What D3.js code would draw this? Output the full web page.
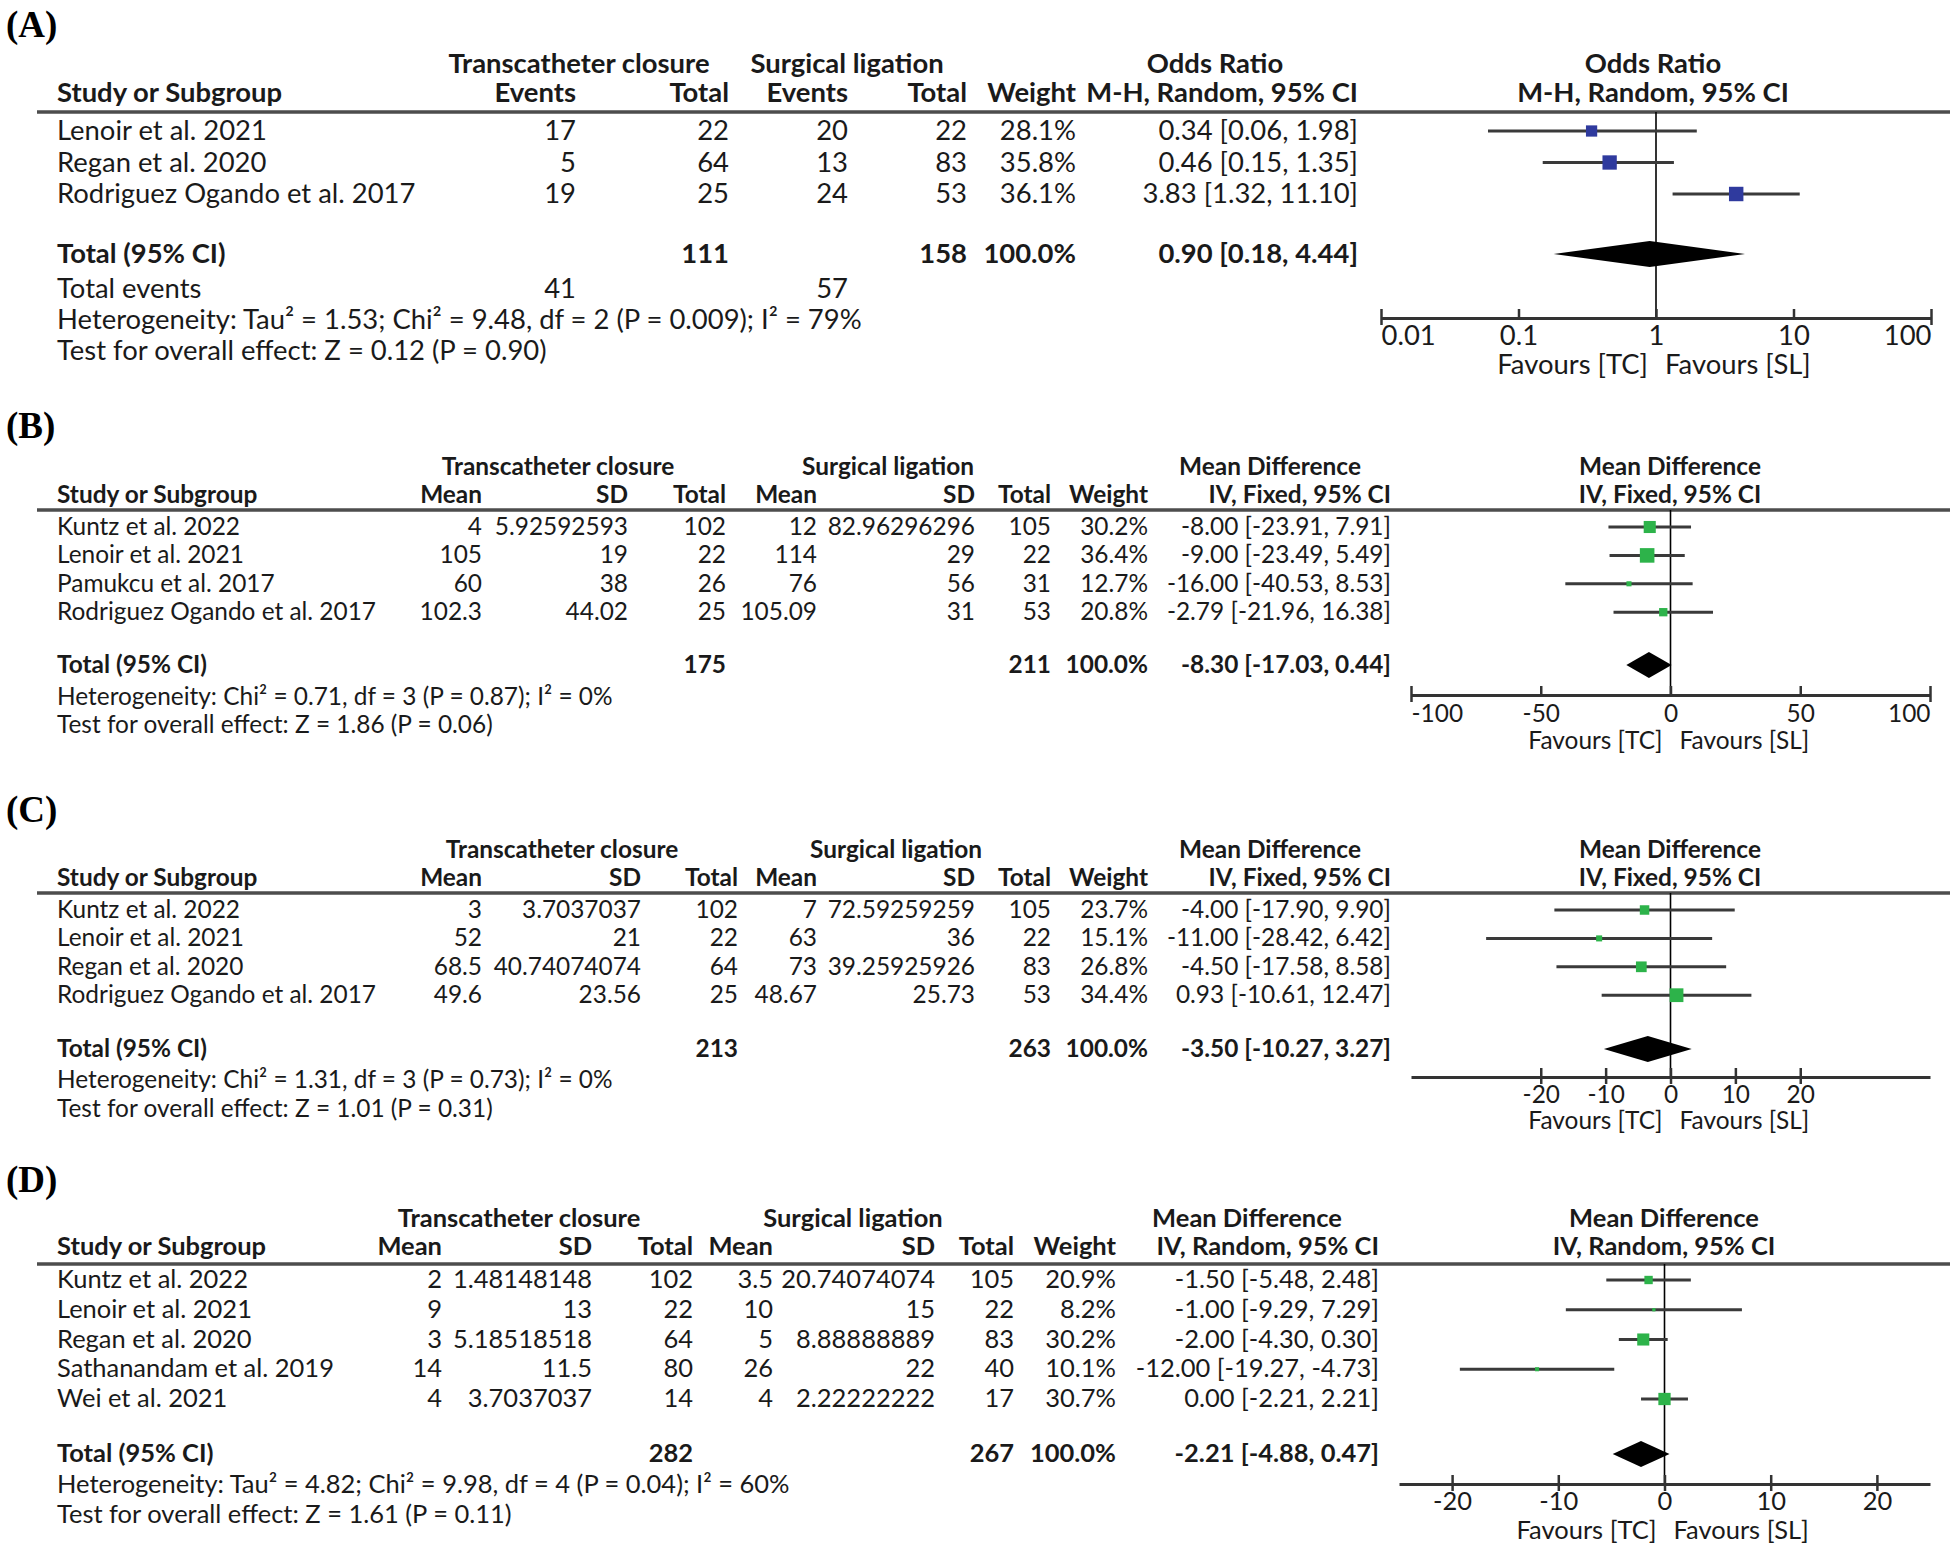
<!DOCTYPE html>
<html>
<head>
<meta charset="utf-8">
<script src="https://cdn.jsdelivr.net/npm/d3@7"></script>
<style>
  body { margin: 0; background: #fff; }
  svg text { font-family: Lato, "Noto Sans", sans-serif; fill: #1a1a1a; }
</style>
</head>
<body>
<svg id="chart" width="1950" height="1547"></svg>
<script>
// (A) Odds ratio
const studiesA = ["Lenoir et al. 2021", "Regan et al. 2020", "Rodriguez Ogando et al. 2017"]
const tcEventsA = [17, 5, 19]
const tcTotalA = [22, 64, 25]
const slEventsA = [20, 13, 24]
const slTotalA = [22, 83, 53]
const weightA = [28.1, 35.8, 36.1]
const orA = [0.34, 0.46, 3.83]
const orLowA = [0.06, 0.15, 1.32]
const orHighA = [1.98, 1.35, 11.10]
const totalA = [111, 158]
const totalEventsA = [41, 57]
const totalOrA = [0.90, 0.18, 4.44]
const ticksA = [0.01, 0.1, 1, 10, 100]
const hetA = "Heterogeneity: Tau² = 1.53; Chi² = 9.48, df = 2 (P = 0.009); I² = 79%"
const testA = "Test for overall effect: Z = 0.12 (P = 0.90)"

// (B) Mean difference, fixed
const studiesB = ["Kuntz et al. 2022", "Lenoir et al. 2021", "Pamukcu et al. 2017", "Rodriguez Ogando et al. 2017"]
const tcMeanB = [4, 105, 60, 102.3]
const tcSdB = [5.92592593, 19, 38, 44.02]
const tcTotalB = [102, 22, 26, 25]
const slMeanB = [12, 114, 76, 105.09]
const slSdB = [82.96296296, 29, 56, 31]
const slTotalB = [105, 22, 31, 53]
const weightB = [30.2, 36.4, 12.7, 20.8]
const mdB = [-8.00, -9.00, -16.00, -2.79]
const mdLowB = [-23.91, -23.49, -40.53, -21.96]
const mdHighB = [7.91, 5.49, 8.53, 16.38]
const totalB = [175, 211]
const totalMdB = [-8.30, -17.03, 0.44]
const ticksB = [-100, -50, 0, 50, 100]
const hetB = "Heterogeneity: Chi² = 0.71, df = 3 (P = 0.87); I² = 0%"
const testB = "Test for overall effect: Z = 1.86 (P = 0.06)"

// (C) Mean difference, fixed
const studiesC = ["Kuntz et al. 2022", "Lenoir et al. 2021", "Regan et al. 2020", "Rodriguez Ogando et al. 2017"]
const tcMeanC = [3, 52, 68.5, 49.6]
const tcSdC = [3.7037037, 21, 40.74074074, 23.56]
const tcTotalC = [102, 22, 64, 25]
const slMeanC = [7, 63, 73, 48.67]
const slSdC = [72.59259259, 36, 39.25925926, 25.73]
const slTotalC = [105, 22, 83, 53]
const weightC = [23.7, 15.1, 26.8, 34.4]
const mdC = [-4.00, -11.00, -4.50, 0.93]
const mdLowC = [-17.90, -28.42, -17.58, -10.61]
const mdHighC = [9.90, 6.42, 8.58, 12.47]
const totalC = [213, 263]
const totalMdC = [-3.50, -10.27, 3.27]
const ticksC = [-20, -10, 0, 10, 20]
const hetC = "Heterogeneity: Chi² = 1.31, df = 3 (P = 0.73); I² = 0%"
const testC = "Test for overall effect: Z = 1.01 (P = 0.31)"

// (D) Mean difference, random
const studiesD = ["Kuntz et al. 2022", "Lenoir et al. 2021", "Regan et al. 2020", "Sathanandam et al. 2019", "Wei et al. 2021"]
const tcMeanD = [2, 9, 3, 14, 4]
const tcSdD = [1.48148148, 13, 5.18518518, 11.5, 3.7037037]
const tcTotalD = [102, 22, 64, 80, 14]
const slMeanD = [3.5, 10, 5, 26, 4]
const slSdD = [20.74074074, 15, 8.88888889, 22, 2.22222222]
const slTotalD = [105, 22, 83, 40, 17]
const weightD = [20.9, 8.2, 30.2, 10.1, 30.7]
const mdD = [-1.50, -1.00, -2.00, -12.00, 0.00]
const mdLowD = [-5.48, -9.29, -4.30, -19.27, -2.21]
const mdHighD = [2.48, 7.29, 0.30, -4.73, 2.21]
const totalD = [282, 267]
const totalMdD = [-2.21, -4.88, 0.47]
const ticksD = [-20, -10, 0, 10, 20]
const hetD = "Heterogeneity: Tau² = 4.82; Chi² = 9.98, df = 4 (P = 0.04); I² = 60%"
const testD = "Test for overall effect: Z = 1.61 (P = 0.11)"

const svg = d3.select("#chart")
const hy = s => s.replace(/\u2212/g, "-")   // RevMan prints a plain hyphen
const f2 = v => hy(d3.format(".2f")(v))
const ciText = (e, lo, hi) => `${f2(e)} [${f2(lo)}, ${f2(hi)}]`
const wText = w => d3.format(".1f")(w) + "%"
const intFmt = d => hy(d3.format("d")(d))
const boxSize = d3.scaleLinear().domain([0, 40]).range([0, 16])

// font size so that the heterogeneity line has the width seen in the picture
function fitSize(str, target) {
  const t = svg.append("text").attr("font-size", 100).text(str)
  const w = t.node().getComputedTextLength()
  t.remove()
  return 100 * target / w
}

function drawPanel(p) {
  const fs = fitSize(p.het, p.hetWidth)
  const g = svg.append("g").attr("font-size", fs)
  const n = p.studies.length

  // panel letter
  svg.append("text")
    .attr("x", 6).attr("y", p.labelY)
    .style("font-family", "'Liberation Serif', 'Times New Roman', serif")
    .style("font-weight", "bold").style("font-size", "37px").style("fill", "#000")
    .text(p.label)

  // header line 1 (group titles)
  g.selectAll("text.grp").data(p.groups).join("text")
    .attr("class", "grp").attr("x", d => d.x).attr("y", p.h1Y)
    .attr("text-anchor", "middle").attr("font-weight", "bold").text(d => d.t)

  // header line 2
  g.append("text").attr("x", 57).attr("y", p.h2Y).attr("font-weight", "bold").text("Study or Subgroup")
  g.selectAll("text.colh").data(p.colHeads).join("text")
    .attr("class", "colh").attr("x", (d, i) => p.cols[i]).attr("y", p.h2Y)
    .attr("text-anchor", "end").attr("font-weight", "bold").text(d => d)

  // plot header
  g.selectAll("text.ph").data(p.plotHeads).join("text")
    .attr("class", "ph").attr("x", p.plotCenter).attr("y", (d, i) => i ? p.h2Y : p.h1Y)
    .attr("text-anchor", "middle").attr("font-weight", "bold").text(d => d)

  // rule under header
  g.append("line").attr("x1", 37).attr("x2", 1950).attr("y1", p.ruleY).attr("y2", p.ruleY)
    .attr("stroke", "#4d4d4d").attr("stroke-width", 3.5)

  const rowY = i => p.rowY0 + i * p.rowStep

  // study rows
  const rows = d3.range(n).map(i => ({
    study: p.studies[i],
    cells: p.cells.map(c => String(c[i])).concat([wText(p.weight[i]), ciText(p.est[i], p.lo[i], p.hi[i])]),
    w: p.weight[i], est: p.est[i], lo: p.lo[i], hi: p.hi[i], y: rowY(i)
  }))

  const rg = g.selectAll("g.row").data(rows).join("g").attr("class", "row")
  rg.append("text").attr("x", 57).attr("y", d => d.y).text(d => d.study)
  rg.selectAll("text.cell").data(d => d.cells.map((c, j) => ({c, j, y: d.y}))).join("text")
    .attr("class", "cell").attr("x", d => p.cols[d.j]).attr("y", d => d.y)
    .attr("text-anchor", "end").text(d => d.c)

  // total row
  g.append("text").attr("x", 57).attr("y", p.totalY).attr("font-weight", "bold").text("Total (95% CI)")
  const totCells = [
    {j: p.totalCols[0], c: p.totals[0]},
    {j: p.totalCols[1], c: p.totals[1]},
    {j: p.cols.length - 2, c: "100.0%"},
    {j: p.cols.length - 1, c: ciText(p.totEst[0], p.totEst[1], p.totEst[2])}
  ]
  g.selectAll("text.tot").data(totCells).join("text")
    .attr("class", "tot").attr("x", d => p.cols[d.j]).attr("y", p.totalY)
    .attr("text-anchor", "end").attr("font-weight", "bold").text(d => d.c)

  if (p.totalEvents) {
    g.append("text").attr("x", 57).attr("y", p.eventsY).text("Total events")
    g.selectAll("text.ev").data(p.totalEvents).join("text")
      .attr("class", "ev").attr("x", (d, i) => p.cols[i * 2]).attr("y", p.eventsY)
      .attr("text-anchor", "end").text(d => d)
  }

  g.append("text").attr("x", 57).attr("y", p.hetY).text(p.het)
  g.append("text").attr("x", 57).attr("y", p.testY).text(p.test)

  // forest plot
  const x = p.scale
  const x0 = x(p.nullValue)

  g.append("line").attr("x1", x0).attr("x2", x0).attr("y1", p.ruleY).attr("y2", p.axisY)
    .attr("stroke", "#000").attr("stroke-width", 1.6)

  g.selectAll("line.ci").data(rows).join("line")
    .attr("class", "ci")
    .attr("x1", d => x(d.lo)).attr("x2", d => x(d.hi))
    .attr("y1", d => d.y - p.markOff).attr("y2", d => d.y - p.markOff)
    .attr("stroke", "#3a3a3a").attr("stroke-width", 3)

  g.selectAll("rect.box").data(rows).join("rect")
    .attr("class", "box")
    .attr("x", d => x(d.est) - boxSize(d.w) / 2)
    .attr("y", d => d.y - p.markOff - boxSize(d.w) / 2)
    .attr("width", d => boxSize(d.w)).attr("height", d => boxSize(d.w))
    .attr("fill", p.boxColor)

  const dy = p.totalY - p.markOff
  const dh = 13
  g.append("path")
    .attr("d", `M${x(p.totEst[1])},${dy}L${x(p.totEst[0])},${dy - dh}L${x(p.totEst[2])},${dy}L${x(p.totEst[0])},${dy + dh}Z`)
    .attr("fill", "#000")

  const dom = x.domain()
  const isEnd = d => d === dom[0] || d === dom[1]
  const ax = g.append("g")
    .attr("transform", `translate(0,${p.axisY})`)
    .call(d3.axisBottom(x).tickValues(p.ticks).tickFormat(p.tickFormat).tickSizeOuter(0))
  ax.attr("font-size", fs).attr("font-family", null)
  ax.select(".domain").attr("stroke", "#333").attr("stroke-width", 3.2)
  ax.selectAll(".tick line").attr("stroke", "#333").attr("stroke-width", 2.5)
    .attr("y1", -9).attr("y2", d => (p.crossTicks || isEnd(d)) ? 7 : 0)
  ax.selectAll(".tick text").attr("y", p.tickLabelY).attr("dy", null).attr("fill", "#1a1a1a")
    .attr("text-anchor", d => d === dom[0] ? "start" : d === dom[1] ? "end" : "middle")

  g.append("text").attr("x", x0 - 8).attr("y", p.favY).attr("text-anchor", "end").text("Favours [TC]")
  g.append("text").attr("x", x0 + 9).attr("y", p.favY).text("Favours [SL]")
}

const mdHeadsB = ["Mean", "SD", "Total", "Mean", "SD", "Total", "Weight"]

drawPanel({
  label: "(A)", labelY: 37, het: hetA, test: testA, hetWidth: 805,
  groups: [{t: "Transcatheter closure", x: 579}, {t: "Surgical ligation", x: 847}, {t: "Odds Ratio", x: 1215}],
  colHeads: ["Events", "Total", "Events", "Total", "Weight", "M-H, Random, 95% CI"],
  cols: [576, 729, 848, 967, 1076, 1358],
  plotHeads: ["Odds Ratio", "M-H, Random, 95% CI"], plotCenter: 1653,
  h1Y: 73, h2Y: 102, ruleY: 112, rowY0: 140, rowStep: 31.5,
  totalY: 263, eventsY: 298, hetY: 329, testY: 360,
  studies: studiesA, cells: [tcEventsA, tcTotalA, slEventsA, slTotalA],
  weight: weightA, est: orA, lo: orLowA, hi: orHighA,
  totals: totalA, totalCols: [1, 3], totEst: totalOrA, totalEvents: totalEventsA,
  scale: d3.scaleLog().domain([0.01, 100]).range([1381, 1931]), nullValue: 1,
  ticks: ticksA, tickFormat: d => String(d), crossTicks: false,
  axisY: 318, tickLabelY: 27, favY: 374, markOff: 9, boxColor: "#2f3a9e"
})

drawPanel({
  label: "(B)", labelY: 438, het: hetB, test: testB, hetWidth: 556,
  groups: [{t: "Transcatheter closure", x: 558}, {t: "Surgical ligation", x: 888}, {t: "Mean Difference", x: 1270}],
  colHeads: mdHeadsB.concat(["IV, Fixed, 95% CI"]),
  cols: [482, 628, 726, 817, 975, 1051, 1148, 1391],
  plotHeads: ["Mean Difference", "IV, Fixed, 95% CI"], plotCenter: 1670,
  h1Y: 475, h2Y: 503, ruleY: 510, rowY0: 535, rowStep: 28.4,
  totalY: 673, hetY: 705, testY: 733,
  studies: studiesB, cells: [tcMeanB, tcSdB, tcTotalB, slMeanB, slSdB, slTotalB],
  weight: weightB, est: mdB, lo: mdLowB, hi: mdHighB,
  totals: totalB, totalCols: [2, 5], totEst: totalMdB,
  scale: d3.scaleLinear().domain([-100, 100]).range([1411, 1930]), nullValue: 0,
  ticks: ticksB, tickFormat: intFmt, crossTicks: false,
  axisY: 695, tickLabelY: 27, favY: 749, markOff: 8, boxColor: "#2db34a"
})

drawPanel({
  label: "(C)", labelY: 822, het: hetC, test: testC, hetWidth: 556,
  groups: [{t: "Transcatheter closure", x: 562}, {t: "Surgical ligation", x: 896}, {t: "Mean Difference", x: 1270}],
  colHeads: mdHeadsB.concat(["IV, Fixed, 95% CI"]),
  cols: [482, 641, 738, 817, 975, 1051, 1148, 1391],
  plotHeads: ["Mean Difference", "IV, Fixed, 95% CI"], plotCenter: 1670,
  h1Y: 858, h2Y: 886, ruleY: 893, rowY0: 918, rowStep: 28.4,
  totalY: 1057, hetY: 1088, testY: 1117,
  studies: studiesC, cells: [tcMeanC, tcSdC, tcTotalC, slMeanC, slSdC, slTotalC],
  weight: weightC, est: mdC, lo: mdLowC, hi: mdHighC,
  totals: totalC, totalCols: [2, 5], totEst: totalMdC,
  scale: d3.scaleLinear().domain([-40, 40]).range([1411, 1930]), nullValue: 0,
  ticks: ticksC, tickFormat: intFmt, crossTicks: true,
  axisY: 1077, tickLabelY: 26, favY: 1129, markOff: 8, boxColor: "#2db34a"
})

drawPanel({
  label: "(D)", labelY: 1192, het: hetD, test: testD, hetWidth: 733,
  groups: [{t: "Transcatheter closure", x: 519}, {t: "Surgical ligation", x: 853}, {t: "Mean Difference", x: 1247}],
  colHeads: mdHeadsB.concat(["IV, Random, 95% CI"]),
  cols: [442, 592, 693, 773, 935, 1014, 1116, 1379],
  plotHeads: ["Mean Difference", "IV, Random, 95% CI"], plotCenter: 1664,
  h1Y: 1227, h2Y: 1255, ruleY: 1264, rowY0: 1288, rowStep: 29.75,
  totalY: 1462, hetY: 1493, testY: 1523,
  studies: studiesD, cells: [tcMeanD, tcSdD, tcTotalD, slMeanD, slSdD, slTotalD],
  weight: weightD, est: mdD, lo: mdLowD, hi: mdHighD,
  totals: totalD, totalCols: [2, 5], totEst: totalMdD,
  scale: d3.scaleLinear().domain([-25, 25]).range([1399, 1930]), nullValue: 0,
  ticks: ticksD, tickFormat: intFmt, crossTicks: true,
  axisY: 1484, tickLabelY: 26, favY: 1539, markOff: 8, boxColor: "#2db34a"
})
</script>
</body>
</html>
